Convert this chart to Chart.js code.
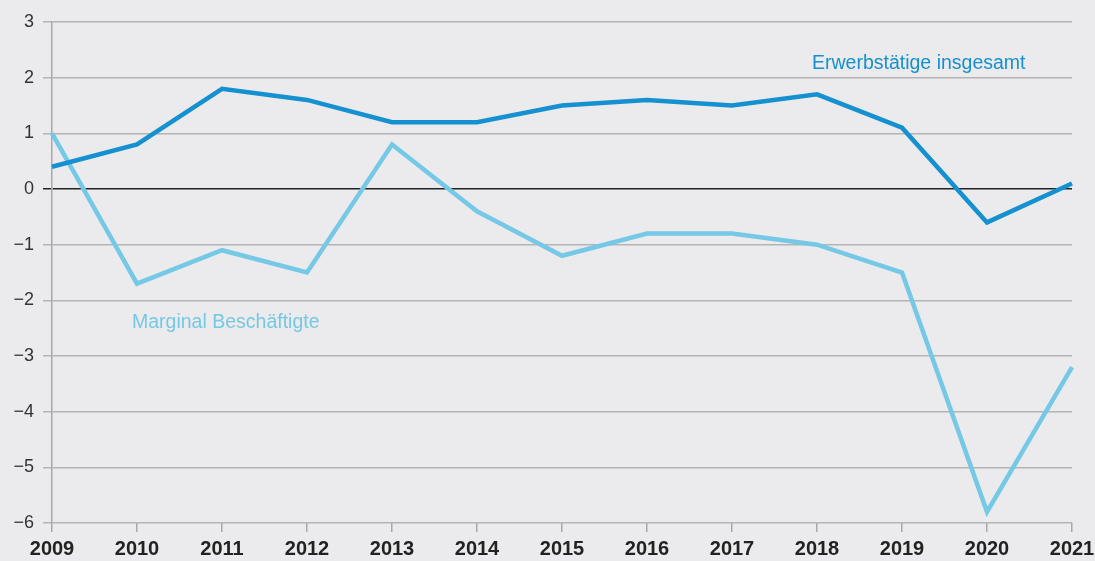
<!DOCTYPE html>
<html>
<head>
<meta charset="utf-8">
<script src="https://cdn.jsdelivr.net/npm/chart.js@4/dist/chart.umd.min.js"></script>
<style>
  html, body { margin: 0; padding: 0; background: #ebebed; }
  #wrap { width: 1095px; height: 561px; }
</style>
</head>
<body>
<div id="wrap"><canvas id="chart"></canvas></div>
<script>
// Jahre und Werte (Veränderung gegenüber Vorjahr in %)
const jahre = ['2009', '2010', '2011', '2012', '2013', '2014', '2015', '2016', '2017', '2018', '2019', '2020', '2021'];
const erwerbstaetige = [0.4, 0.8, 1.8, 1.6, 1.2, 1.2, 1.5, 1.6, 1.5, 1.7, 1.1, -0.6, 0.1];
const marginal = [1.0, -1.7, -1.1, -1.5, 0.8, -0.4, -1.2, -0.8, -0.8, -1.0, -1.5, -5.8, -3.2];
const yMin = -6;
const yMax = 3;

const dunkelBlau = '#1590d0';
const hellBlau = '#75c8e6';
const schrift = '"Liberation Sans", Arial, sans-serif';

// Beschriftungen der Linien direkt im Diagramm
const labelPlugin = {
  id: 'linienLabels',
  afterDatasetsDraw(chart) {
    const ctx = chart.ctx;
    const x = chart.scales.x, y = chart.scales.y;
    ctx.save();
    ctx.font = '19.5px ' + schrift;
    ctx.textBaseline = 'middle';
    ctx.textAlign = 'left';
    ctx.fillStyle = dunkelBlau;
    ctx.fillText('Erwerbstätige insgesamt', x.getPixelForValue(9) - 5, y.getPixelForValue(2.25));
    ctx.fillStyle = hellBlau;
    ctx.fillText('Marginal Beschäftigte', x.getPixelForValue(1) - 5, y.getPixelForValue(-2.4));
    ctx.restore();
  }
};

new Chart(document.getElementById('chart'), {
  type: 'line',
  data: {
    labels: jahre,
    datasets: [
      { label: 'Erwerbstätige insgesamt', data: erwerbstaetige, borderColor: dunkelBlau, borderWidth: 4.5, pointRadius: 0, tension: 0 },
      { label: 'Marginal Beschäftigte', data: marginal, borderColor: hellBlau, borderWidth: 4.5, pointRadius: 0, tension: 0 }
    ]
  },
  options: {
    responsive: true,
    maintainAspectRatio: false,
    animation: false,
    layout: { padding: { top: 22, right: 23, left: 0, bottom: 0 } },
    plugins: { legend: { display: false }, tooltip: { enabled: false } },
    scales: {
      x: {
        offset: false,
        grid: { drawOnChartArea: false, drawTicks: true, tickLength: 9, color: '#a8a8a8', lineWidth: 1.5 },
        border: { display: false },
        ticks: {
          color: '#222',
          padding: 5,
          maxRotation: 0,
          autoSkip: false,
          font: { family: schrift, size: 20, weight: 'bold' }
        },
        afterFit(scale) {
          scale.height = 38;
          // Beschriftung 2021 darf über den Rand hinausragen
          scale.paddingLeft = 0;
          scale.paddingRight = 0;
        }
      },
      y: {
        min: yMin,
        max: yMax,
        grid: {
          tickLength: 9,
          lineWidth: 1.5,
          color: ctx => (ctx.tick && ctx.tick.value === 0) ? '#222' : '#b4b4b4'
        },
        border: { display: true, color: '#a8a8a8', width: 1.5 },
        ticks: {
          stepSize: 1,
          color: '#333',
          padding: 9,
          font: { family: schrift, size: 18 },
          callback: v => String(v).replace('-', '\u2212')
        },
        afterFit(scale) { scale.width = 52; }
      }
    }
  },
  plugins: [labelPlugin]
});
</script>
</body>
</html>
